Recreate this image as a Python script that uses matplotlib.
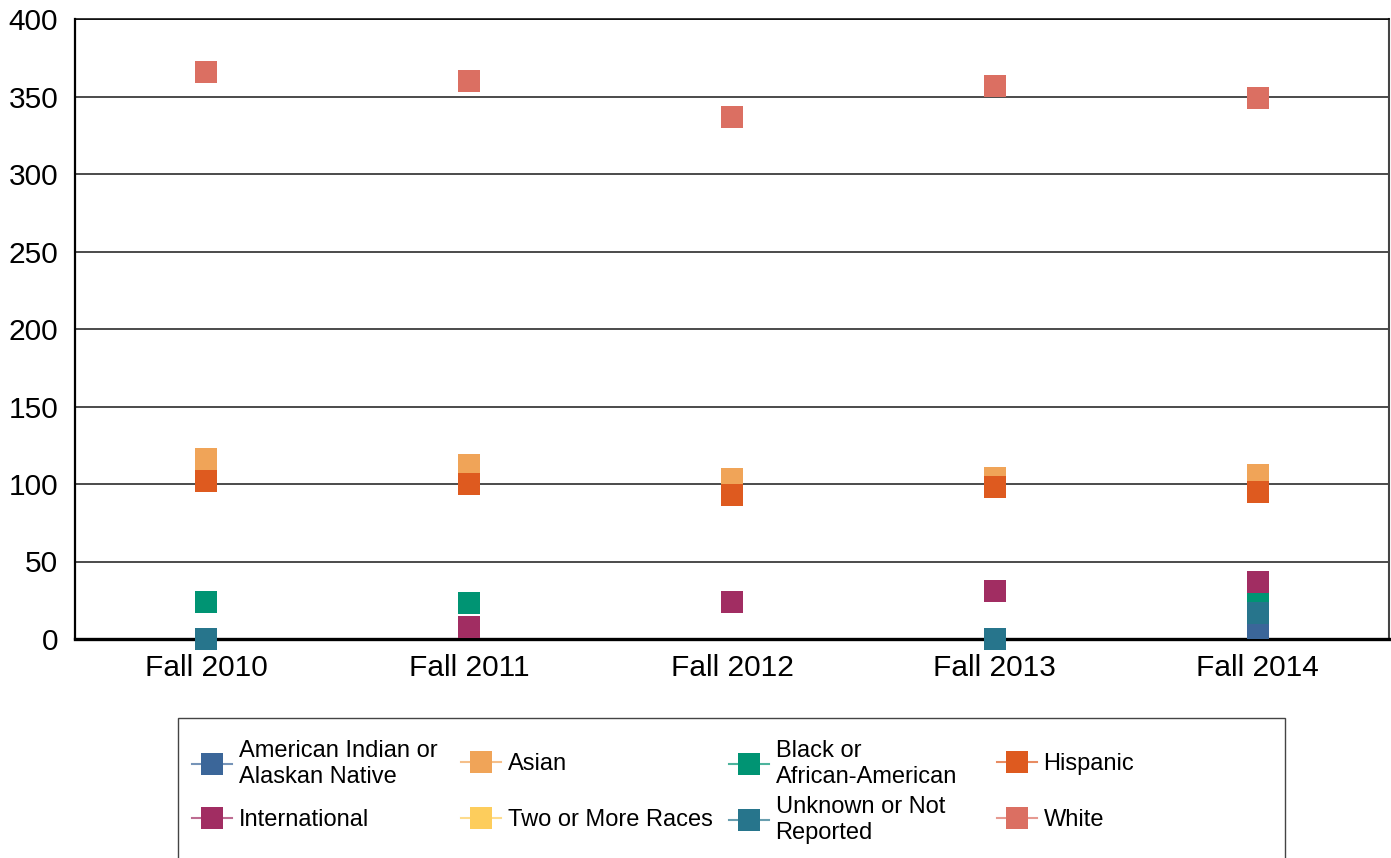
import numpy as np
import matplotlib
matplotlib.use("Agg")
import matplotlib.pyplot as plt
from matplotlib.lines import Line2D
from matplotlib.patches import Rectangle
from matplotlib.colors import to_rgb

plt.rcParams['font.family'] = ['Liberation Sans', 'DejaVu Sans']

# ---- data ----
categories = ["Fall 2010", "Fall 2011", "Fall 2012", "Fall 2013", "Fall 2014"]
series_names = ["American Indian or\nAlaskan Native", "Asian", "Black or\nAfrican-American",
                "Hispanic", "International", "Two or More Races",
                "Unknown or Not\nReported", "White"]
american_indian = [np.nan, np.nan, np.nan, np.nan, 7]
asian = [116, 112, 103, 104, 106]
black = [24, 23, np.nan, np.nan, 27]
hispanic = [102, 100, 93, 98, 95]
international = [np.nan, 8, 24, 31, 37]
two_or_more = [np.nan, np.nan, np.nan, np.nan, np.nan]
unknown = [0, np.nan, np.nan, 0, 17]
white = [366, 360, 337, 357, 349]
y_ticks = [0, 50, 100, 150, 200, 250, 300, 350, 400]

series_values = [american_indian, asian, black, hispanic, international,
                 two_or_more, unknown, white]
colors = ["#3B6699", "#F0A458", "#009473", "#DE5A1F", "#A12D62",
          "#FDCD5C", "#27758C", "#DB6F62"]

W, H = 1391, 858
fig = plt.figure(figsize=(W / 100, H / 100), dpi=100)
ax = fig.add_axes([75 / W, 1 - 639 / H, (1389 - 75) / W, (639 - 19) / H])

x = np.arange(len(categories))
MS = 15.8
for name, vals, c in zip(series_names, series_values, colors):
    ax.plot(x, vals, linestyle='none', marker='s', markersize=MS,
            markerfacecolor=c, markeredgewidth=0, clip_on=False, zorder=5)

ax.set_xlim(-0.5, len(categories) - 0.5)
ax.set_ylim(0, 400)
ax.set_yticks(y_ticks)
ax.set_yticklabels([str(t) for t in y_ticks])
ax.set_xticks(x)
ax.set_xticklabels(categories)
ax.tick_params(axis='y', length=0, pad=12, labelsize=21.5)
ax.tick_params(axis='x', length=0, pad=11, labelsize=21.5)

ax.yaxis.grid(True, color='#1a1a1a', linewidth=1.1)
ax.set_axisbelow(True)
ax.spines['bottom'].set_linewidth(2.4)
ax.spines['bottom'].set_color('black')
ax.spines['left'].set_linewidth(1.6)
ax.spines['top'].set_linewidth(1.1)
ax.spines['right'].set_linewidth(1.5)
ax.spines['right'].set_color('#444444')
for s in ax.spines.values():
    s.set_zorder(3)

# legend frame
fig.add_artist(Rectangle((178 / W, 1 - 880 / H), (1285 - 178) / W, (880 - 718) / H,
                         transform=fig.transFigure, facecolor='none',
                         edgecolor='#444444', linewidth=1.0, clip_on=False))

def lighter(c, f=0.3):
    r, g, b = to_rgb(c)
    return (r + (1 - r) * f, g + (1 - g) * f, b + (1 - b) * f)

col_x = [192, 461, 729, 997]
row_y = [764, 820]
order = [[0, 1, 2, 3], [4, 5, 6, 7]]
for ri, row in enumerate(order):
    for ci, idx in enumerate(row):
        h = Line2D([0], [0], color=lighter(colors[idx]), linewidth=1.5,
                   marker='s', markersize=16.5, markerfacecolor=colors[idx],
                   markeredgewidth=0)
        leg = fig.legend([h], [series_names[idx]], loc='center left',
                         bbox_to_anchor=(col_x[ci] / W, 1 - row_y[ri] / H),
                         bbox_transform=fig.transFigure, frameon=False,
                         borderpad=0, borderaxespad=0, fontsize=17,
                         handlelength=1.7, handletextpad=0.27)
        for t in leg.get_texts():
            t.set_linespacing(1.2)

fig.savefig("out.png", dpi=100)
